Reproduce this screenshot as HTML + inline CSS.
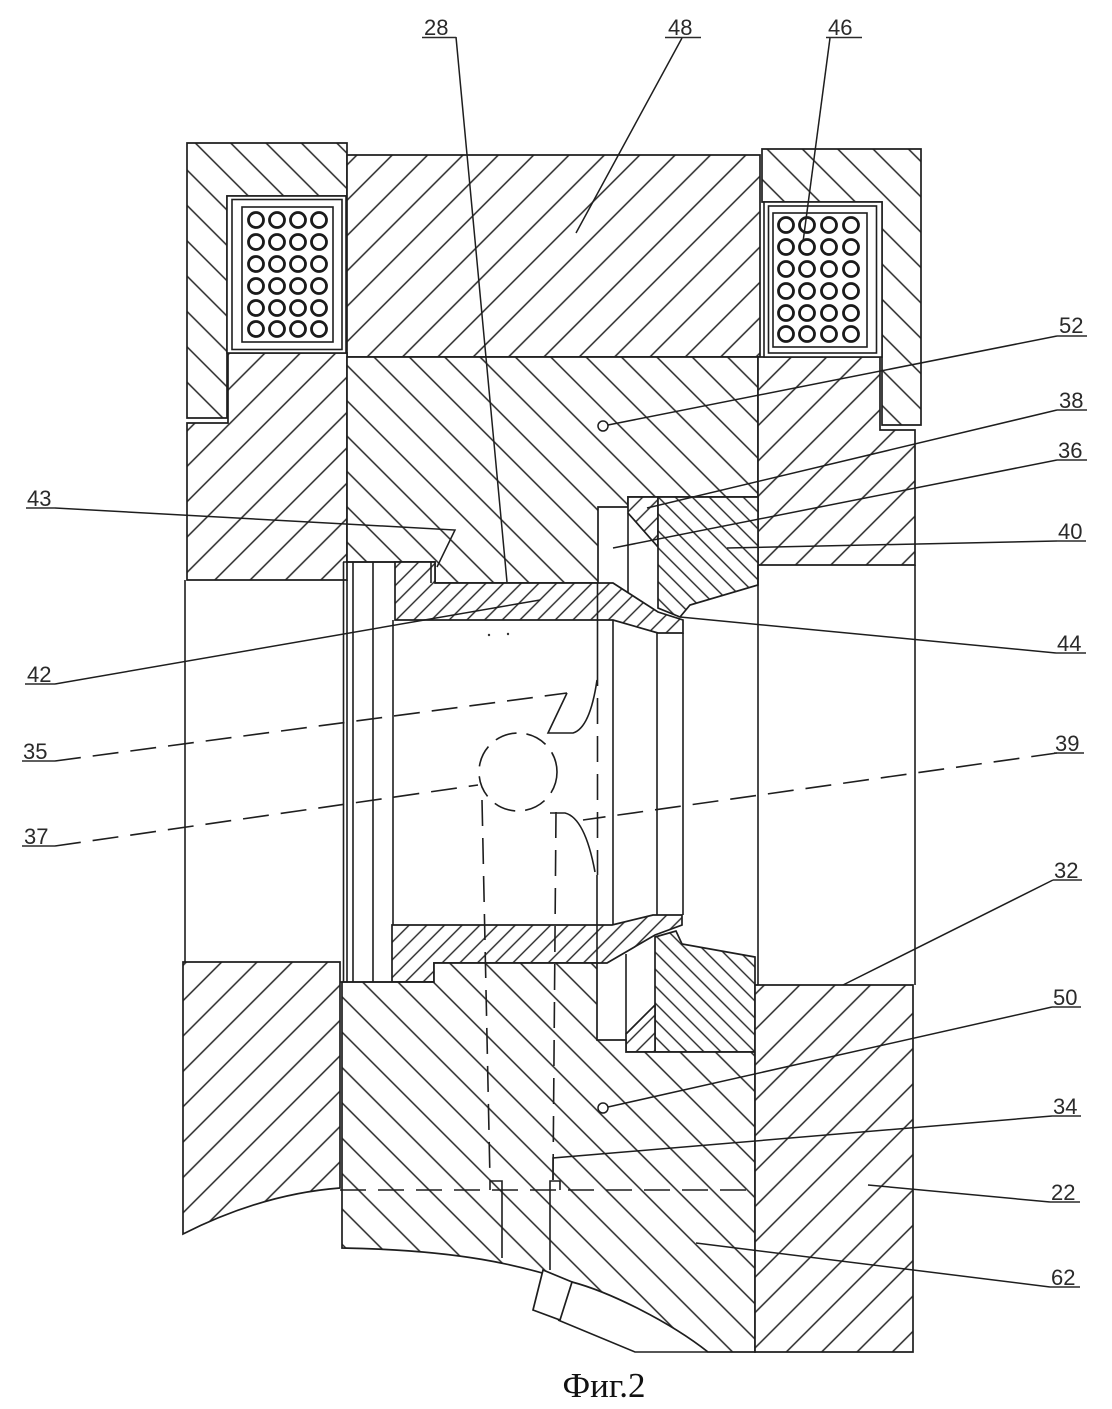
<!DOCTYPE html>
<html><head><meta charset="utf-8">
<style>html,body{margin:0;padding:0;background:#fff}svg{display:block}</style></head>
<body>
<svg width="1112" height="1409" viewBox="0 0 1112 1409" xmlns="http://www.w3.org/2000/svg">
<defs>
<pattern id="bs" patternUnits="userSpaceOnUse" width="25" height="25" patternTransform="rotate(45)"><rect width="25" height="25" fill="#fff"/><line x1="12" y1="-2" x2="12" y2="27" stroke="#262626" stroke-width="1.5"/></pattern>
<pattern id="bb" patternUnits="userSpaceOnUse" width="25" height="25" patternTransform="rotate(-45)"><rect width="25" height="25" fill="#fff"/><line x1="12" y1="-2" x2="12" y2="27" stroke="#262626" stroke-width="1.5"/></pattern>
<pattern id="fs" patternUnits="userSpaceOnUse" width="12.5" height="12.5" patternTransform="rotate(45)"><rect width="12.5" height="12.5" fill="#fff"/><line x1="6" y1="-2" x2="6" y2="15" stroke="#262626" stroke-width="1.4"/></pattern>
<pattern id="fb" patternUnits="userSpaceOnUse" width="12" height="12" patternTransform="rotate(-45)"><rect width="12" height="12" fill="#fff"/><line x1="6" y1="-2" x2="6" y2="14" stroke="#262626" stroke-width="1.4"/></pattern>
</defs>
<rect width="1112" height="1409" fill="#fff"/>

<g stroke="#1e1e1e" stroke-width="1.7" stroke-linejoin="miter">
<!-- left cap -->
<path d="M187,143 H347 V196 H227 V418 H187 Z" fill="url(#bb)"/>
<!-- top 48 -->
<path d="M347,155 H760 V357 H347 Z" fill="url(#bs)"/>
<!-- right cap -->
<path d="M762,149 H921 V425 H882 V202 H762 Z" fill="url(#bb)"/>
<!-- left housing upper -->
<path d="M228,353 H347 V580 H187 V423 H228 Z" fill="url(#bs)"/>
<!-- middle upper -->
<path d="M347,357 H758 V497 H628 V507 H598 V583 H435 V562 H347 Z" fill="url(#bb)"/>
<!-- right housing upper -->
<path d="M758,357 H880 V430 H915 V565 H758 Z" fill="url(#bs)"/>
<!-- small triangle upper -->
<path d="M628,497 H658 V547 L628,513 Z" fill="url(#fs)"/>
<!-- piece 38 -->
<path d="M658,497 H758 V585 L690,605 L680,617 L658,608 Z" fill="url(#fb)"/>
<!-- upper sleeve -->
<path d="M395,562 H435 V583 H613 L658,612 L683,620 V633 H658 L613,620 H395 Z" fill="url(#fs)"/>
<!-- lower sleeve -->
<path d="M392,925 H612 L653,915 H682 V925 L655,935 L607,963 H434 V982 H392 Z" fill="url(#fs)"/>
<!-- lower right piece -->
<path d="M655,937 L676,931 L682,944 L755,957 V1052 H655 Z" fill="url(#fb)"/>
<!-- lower small triangle -->
<path d="M626,1052 H655 V1005 L626,1034 Z" fill="url(#fs)"/>
<!-- left housing lower -->
<path d="M183,962 H340 V1188 Q262,1194 183,1234 Z" fill="url(#bs)"/>
<!-- piece 62 -->
<path d="M342,982 H434 V963 H597 V1040 H626 V1052 H755 V1352 H708 C670,1322 610,1292 572,1282 C520,1265 460,1250 342,1248 Z" fill="url(#bb)"/>
<!-- right housing lower -->
<path d="M755,985 H913 V1352 H755 Z" fill="url(#bs)"/>
<!-- port -->
<path d="M543,1270 L572,1282 L560,1320 L533,1310 Z" fill="#fff"/>
</g>

<!-- coil boxes -->
<g stroke="#1e1e1e" stroke-width="1.6" fill="#fff">
<rect x="227" y="196" width="119" height="157"/>
<rect x="232" y="199.5" width="110" height="150" fill="none"/>
<rect x="242" y="207" width="91" height="135" fill="none"/>
<rect x="764" y="202" width="118" height="155"/>
<rect x="768.5" y="206" width="108" height="147" fill="none"/>
<rect x="773" y="213" width="94" height="134" fill="none"/>
</g>
<g stroke="#1a1a1a" stroke-width="2.8" fill="none">
<g>
<circle cx="256" cy="220" r="7.5"/><circle cx="277" cy="220" r="7.5"/><circle cx="298" cy="220" r="7.5"/><circle cx="319" cy="220" r="7.5"/>
<circle cx="256" cy="242" r="7.5"/><circle cx="277" cy="242" r="7.5"/><circle cx="298" cy="242" r="7.5"/><circle cx="319" cy="242" r="7.5"/>
<circle cx="256" cy="264" r="7.5"/><circle cx="277" cy="264" r="7.5"/><circle cx="298" cy="264" r="7.5"/><circle cx="319" cy="264" r="7.5"/>
<circle cx="256" cy="286" r="7.5"/><circle cx="277" cy="286" r="7.5"/><circle cx="298" cy="286" r="7.5"/><circle cx="319" cy="286" r="7.5"/>
<circle cx="256" cy="308" r="7.5"/><circle cx="277" cy="308" r="7.5"/><circle cx="298" cy="308" r="7.5"/><circle cx="319" cy="308" r="7.5"/>
<circle cx="256" cy="329" r="7.5"/><circle cx="277" cy="329" r="7.5"/><circle cx="298" cy="329" r="7.5"/><circle cx="319" cy="329" r="7.5"/>
</g>
<g>
<circle cx="786" cy="225" r="7.5"/><circle cx="807" cy="225" r="7.5"/><circle cx="829" cy="225" r="7.5"/><circle cx="851" cy="225" r="7.5"/>
<circle cx="786" cy="247" r="7.5"/><circle cx="807" cy="247" r="7.5"/><circle cx="829" cy="247" r="7.5"/><circle cx="851" cy="247" r="7.5"/>
<circle cx="786" cy="269" r="7.5"/><circle cx="807" cy="269" r="7.5"/><circle cx="829" cy="269" r="7.5"/><circle cx="851" cy="269" r="7.5"/>
<circle cx="786" cy="291" r="7.5"/><circle cx="807" cy="291" r="7.5"/><circle cx="829" cy="291" r="7.5"/><circle cx="851" cy="291" r="7.5"/>
<circle cx="786" cy="313" r="7.5"/><circle cx="807" cy="313" r="7.5"/><circle cx="829" cy="313" r="7.5"/><circle cx="851" cy="313" r="7.5"/>
<circle cx="786" cy="334" r="7.5"/><circle cx="807" cy="334" r="7.5"/><circle cx="829" cy="334" r="7.5"/><circle cx="851" cy="334" r="7.5"/>
</g>
</g>

<!-- extra solid lines -->
<g stroke="#1e1e1e" stroke-width="1.6" fill="none">
<path d="M185,580 V962"/>
<path d="M758,565 V985 M915,565 V985"/>
<path d="M343.5,562 V982 M347,580 V982 M353,562 V982 M373,562 V982 M343,562 H395 M340,982 H434"/>
<path d="M393,620 V925"/>
<path d="M431,562 V583"/>
<path d="M613,620 V925 M657,633 V915 M683,633 V915"/>
<path d="M597.5,583 V660 M597,875 V963"/>
<path d="M628,513 V593"/>
<path d="M626,954 V1034"/>
<path d="M558,1320 L635,1352 H708"/>
<path d="M502,1190 V1258 M550,1190 V1270"/>
<path d="M490,1190 V1181 H502 V1190 M550,1190 V1181 H560 V1190"/>
<path d="M567,693 L548,733 L573,733 Q590,728 597,680"/>
<path d="M550,813 L565,813 Q585,818 595,872"/>
</g>
<circle cx="603" cy="426" r="5" fill="none" stroke="#1e1e1e" stroke-width="1.5"/>
<circle cx="603" cy="1108" r="5" fill="none" stroke="#1e1e1e" stroke-width="1.5"/>
<circle cx="489" cy="635" r="1.2" fill="#333"/><circle cx="508" cy="634" r="1.2" fill="#333"/>

<!-- dashed lines -->
<g stroke="#1e1e1e" stroke-width="1.6" fill="none" stroke-dasharray="26 12">
<path d="M597.5,660 V875"/>
<path d="M340,1190 H752"/>
<path d="M482,800 L490,1180"/>
<path d="M556,812 L553,1180"/>
<path d="M55,761 L567,693"/>
<path d="M55,846 L478,785"/>
<path d="M1057,753 L583,820"/>
<circle cx="518" cy="772" r="39" stroke-dasharray="22 10"/>
</g>

<!-- leaders -->
<g stroke="#1e1e1e" stroke-width="1.5" fill="none">
<path d="M456,37 L507,582"/>
<path d="M682,38 L576,233"/>
<path d="M830,38 L803,242"/>
<path d="M1057,336 L608,425"/>
<path d="M1057,410 L647,508"/>
<path d="M1057,460 L613,548"/>
<path d="M1057,541 L727,548"/>
<path d="M1056,653 L680,617"/>
<path d="M1053,880 L843,985"/>
<path d="M1052,1007 L608,1107"/>
<path d="M1052,1116 L553,1158 V1180"/>
<path d="M1050,1202 L868,1185"/>
<path d="M1050,1287 L696,1243"/>
<path d="M55,508 L455,530 L437,567"/>
<path d="M55,684 L540,600"/>
</g>

<!-- labels -->
<g font-family="'Liberation Sans', sans-serif" font-size="22" fill="#2a2a2a">
<text x="424" y="35">28</text>
<text x="668" y="35">48</text>
<text x="828" y="35">46</text>
<text x="1059" y="333">52</text>
<text x="1059" y="408">38</text>
<text x="1058" y="458">36</text>
<text x="1058" y="539">40</text>
<text x="1057" y="651">44</text>
<text x="1055" y="751">39</text>
<text x="1054" y="878">32</text>
<text x="1053" y="1005">50</text>
<text x="1053" y="1114">34</text>
<text x="1051" y="1200">22</text>
<text x="1051" y="1285">62</text>
<text x="27" y="506">43</text>
<text x="27" y="682">42</text>
<text x="23" y="759">35</text>
<text x="24" y="844">37</text>
</g>
<g stroke="#2a2a2a" stroke-width="1.5">
<path d="M422,37.5 H456 M665,37.5 H701 M826,37.5 H862"/>
<path d="M1057,336 H1087 M1057,410 H1087 M1057,460 H1087 M1057,541 H1086 M1056,653 H1086 M1054,753 H1084"/>
<path d="M1053,880 H1082 M1052,1007 H1081 M1052,1116 H1081 M1050,1202 H1080 M1050,1287 H1080"/>
<path d="M26,508 H55 M25,684 H55 M22,761 H55 M22,846 H55"/>
</g>

<text x="604" y="1397" font-family="'Liberation Serif', serif" font-size="35" fill="#111" text-anchor="middle">Фиг.2</text>
</svg>
</body></html>
